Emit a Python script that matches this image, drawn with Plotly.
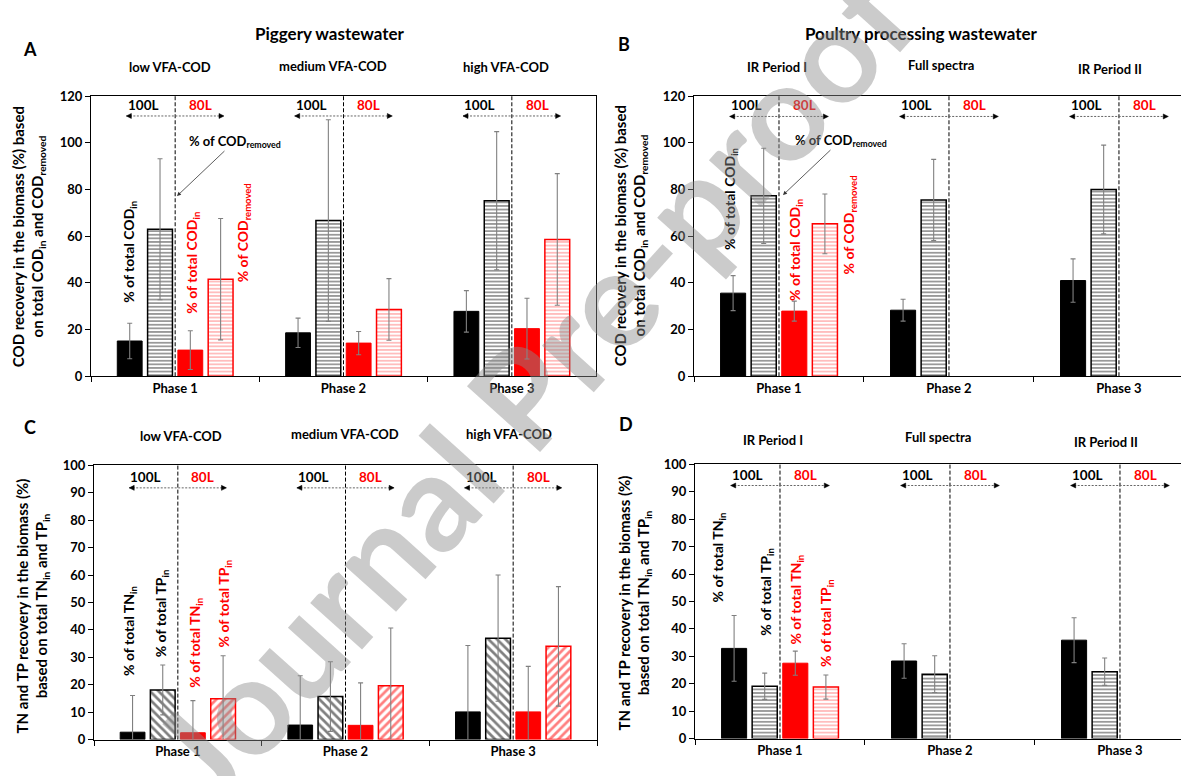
import plotly.graph_objects as go

W, H = 1181, 776
FONT = "Lato"

phases = ["Phase 1", "Phase 2", "Phase 3"]
y_ticks_cod = [0, 20, 40, 60, 80, 100, 120]
y_ticks_n = [0, 10, 20, 30, 40, 50, 60, 70, 80, 90, 100]

# Panel A: COD recovery, piggery wastewater
A_100_codin = [15.1, 18.6, 27.8]
A_100_codin_err = [7.6, 6.3, 8.9]
A_100_codrem = [63.0, 66.7, 75.2]
A_100_codrem_err = [30.2, 43.2, 29.6]
A_80_codin = [11.2, 14.2, 20.4]
A_80_codin_err = [8.3, 5.0, 13.0]
A_80_codrem = [41.6, 28.6, 58.6]
A_80_codrem_err = [26.0, 13.2, 28.2]

# Panel B: COD recovery, poultry processing wastewater
B_100_codin = [35.6, 28.3, 41.0]
B_100_codin_err = [7.5, 4.7, 9.3]
B_100_codrem = [77.3, 75.5, 80.0]
B_100_codrem_err = [20.4, 17.4, 19.0]
B_80_codin = [27.9, None, None]
B_80_codin_err = [4.3, 0, 0]
B_80_codrem = [65.3, None, None]
B_80_codrem_err = [12.8, 0, 0]

# Panel C: TN/TP recovery, piggery wastewater
C_100_tn = [2.7, 5.3, 10.1]
C_100_tn_err = [13.4, 18.0, 24.2]
C_100_tp = [18.1, 15.7, 37.0]
C_100_tp_err = [9.1, 12.7, 23.0]
C_80_tn = [2.5, 5.2, 10.1]
C_80_tn_err = [11.7, 15.5, 16.6]
C_80_tp = [14.9, 19.6, 34.0]
C_80_tp_err = [15.7, 21.1, 21.8]

# Panel D: TN/TP recovery, poultry processing wastewater
D_100_tn = [32.9, 28.3, 35.9]
D_100_tn_err = [12.0, 6.3, 8.2]
D_100_tp = [19.1, 23.5, 24.4]
D_100_tp_err = [4.8, 6.7, 5.0]
D_80_tn = [27.5, None, None]
D_80_tn_err = [4.4, 0, 0]
D_80_tp = [18.8, None, None]
D_80_tp_err = [4.4, 0, 0]


def px(x):
    return x / W


def py(y):
    return 1 - y / H


def sub(s, size):
    return (f"<span style='font-size:{size * 0.68:.1f}px;baseline-shift:-{size * 0.18:.1f}px'>"
            f"{s}</span>")


fig = go.Figure()

ERR = dict(type="data", color="#808080", thickness=1.1, width=2.5, visible=True)


def add_panel(axn, values, errs, patterns):
    xa = "x" if axn == 1 else f"x{axn}"
    ya = "y" if axn == 1 else f"y{axn}"
    for v, e, (fill, pshape, fg, line_c, lw, psize, solid) in zip(values, errs, patterns):
        marker = dict(color=fill, line=dict(color=line_c, width=lw))
        if pshape:
            marker["pattern"] = dict(shape=pshape, fgcolor=fg, bgcolor="white",
                                     size=psize, solidity=solid, fillmode="overlay")
        fig.add_trace(go.Bar(x=phases, y=v, xaxis=xa, yaxis=ya, marker=marker,
                             textposition="none", hoverinfo="skip",
                             error_y=dict(array=e, **ERR), showlegend=False))


solid_k = ("black", None, None, "black", 1, 0, 0)
solid_r = ("red", None, None, "red", 1, 0, 0)
hline_k = ("white", "-", "black", "black", 1.5, 3.6, 0.4)
hline_r = ("white", "-", "#ff4040", "red", 1.5, 3.6, 0.35)
diag_k = ("white", "\\", "black", "black", 1.5, 6, 0.45)
diag_r = ("white", "/", "red", "red", 1.5, 6, 0.45)

add_panel(1, [A_100_codin, A_100_codrem, A_80_codin, A_80_codrem],
          [A_100_codin_err, A_100_codrem_err, A_80_codin_err, A_80_codrem_err],
          [solid_k, hline_k, solid_r, hline_r])
add_panel(2, [B_100_codin, B_100_codrem, B_80_codin, B_80_codrem],
          [B_100_codin_err, B_100_codrem_err, B_80_codin_err, B_80_codrem_err],
          [solid_k, hline_k, solid_r, hline_r])
add_panel(3, [C_100_tn, C_100_tp, C_80_tn, C_80_tp],
          [C_100_tn_err, C_100_tp_err, C_80_tn_err, C_80_tp_err],
          [solid_k, diag_k, solid_r, diag_r])
add_panel(4, [D_100_tn, D_100_tp, D_80_tn, D_80_tp],
          [D_100_tn_err, D_100_tp_err, D_80_tn_err, D_80_tp_err],
          [solid_k, hline_k, solid_r, hline_r])

tickfont = dict(family=FONT, size=13, color="black")


def xaxis(dom, rng, anchor):
    return dict(domain=dom, range=rng, type="category", anchor=anchor,
                tickmode="array", tickvals=phases,
                ticktext=[f"<b>{p}</b>" for p in phases],
                showline=True, linecolor="black", linewidth=1.3, mirror=True,
                ticks="outside", tickson="boundaries", ticklen=5, tickcolor="black",
                tickfont=tickfont, showgrid=False, zeroline=False)


def yaxis(dom, rng, tv, anchor, mirror):
    return dict(domain=dom, range=rng, anchor=anchor,
                tickmode="array", tickvals=tv, ticktext=[f"<b>{v}</b>" for v in tv],
                showline=True, linecolor="black", linewidth=1.3, mirror=mirror,
                ticks="outside", ticklen=5, tickcolor="black",
                tickfont=tickfont, showgrid=False, zeroline=False)


top_dom = [py(376), py(90)]
bot_dom = [py(747), py(467)]

fig.update_layout(
    width=W, height=H,
    margin=dict(l=0, r=0, t=0, b=0),
    paper_bgcolor="white", plot_bgcolor="white",
    barmode="group", bargap=0.28, bargroupgap=0.18,
    showlegend=False, hovermode=False,
    xaxis=xaxis([px(91), px(596)], [-0.5, 2.5], "y"),
    yaxis=yaxis(top_dom, [0, 120], y_ticks_cod, "x", True),
    xaxis2=xaxis([px(694), 1.0], [-0.5, 2.365], "y2"),
    yaxis2=yaxis(top_dom, [0, 120], y_ticks_cod, "x2", False),
    xaxis3=xaxis([px(94), px(597)], [-0.5, 2.5], "y3"),
    yaxis3=yaxis(bot_dom, [0, 100], y_ticks_n, "x3", True),
    xaxis4=xaxis([px(695), 1.0], [-0.5, 2.359], "y4"),
    yaxis4=yaxis([py(746), py(466)], [0, 100], y_ticks_n, "x4", False),
)

shapes = []
annotations = []


def txt(x, y, text, size=13, color="black", bold=True, angle=0, xref="paper", yref="paper", **kw):
    annotations.append(dict(x=x, y=y, xref=xref, yref=yref, text=text, showarrow=False,
                            textangle=angle, xanchor="center", yanchor="middle",
                            font=dict(family=FONT, size=size, color=color,
                                      weight="bold" if bold else "normal"), **kw))


# Divider lines, 100L/80L labels and double-headed dotted arrows
divider_specs = [
    ("x", "y", 111.5, 116.3),
    ("x2", "y2", 111.3, 116.0),
    ("x3", "y3", 91.8, 95.8),
    ("x4", "y4", 92.3, 96.0),
]
for xr, yr, ay_, ty_ in divider_specs:
    for i in range(3):
        shapes.append(dict(type="line", xref=xr, yref=f"{yr} domain", x0=i, x1=i, y0=0, y1=1,
                           line=dict(color="black", width=1, dash="4px,2px")))
        shapes.append(dict(type="line", xref=xr, yref=yr, x0=i - 0.29, x1=i + 0.29,
                           y0=ay_, y1=ay_, line=dict(color="#666666", width=1, dash="2px,1.5px")))
        for end, path in ((i - 0.29, "M 0 0 L 5 2.5 L 5 -2.5 Z"),
                          (i + 0.29, "M 0 0 L -5 2.5 L -5 -2.5 Z")):
            shapes.append(dict(type="path", xref=xr, yref=yr, xsizemode="pixel",
                               ysizemode="pixel", xanchor=end, yanchor=ay_, path=path,
                               fillcolor="black", line=dict(color="black", width=0.5)))
        txt(i - 0.19, ty_, "100L", size=13.5, xref=xr, yref=yr)
        txt(i + 0.15, ty_, "80L", size=13.5, color="red", xref=xr, yref=yr)

# Panel letters and titles
txt(px(30), py(42), "A", size=18)
txt(px(624), py(37), "B", size=18)
txt(px(30), py(428), "C", size=18)
txt(px(626), py(425), "D", size=18)
txt(px(330), py(26), "Piggery wastewater", size=17)
txt(px(921), py(26), "Poultry processing wastewater", size=17)

for x, y, t in [(170, 60, "low VFA-COD"), (333, 59, "medium VFA-COD"), (506, 60, "high VFA-COD"),
                (777, 60, "IR Period I"), (941, 58, "Full spectra"), (1110, 62, "IR Period II"),
                (181, 437, "low VFA-COD"), (345, 435, "medium VFA-COD"), (509, 435, "high VFA-COD"),
                (773, 441, "IR Period I"), (938, 438, "Full spectra"), (1106, 443, "IR Period II")]:
    txt(px(x), py(y), t, size=13)

# Axis titles
cod_title = ("COD recovery in the biomass (%) based<br>on total COD" + sub("in", 15)
             + " and COD" + sub("removed", 15))
n_title = ("TN and TP recovery in the biomass (%)<br>based on total TN" + sub("in", 15)
           + " and TP" + sub("in", 15))
txt(px(28), py(234), cod_title, size=15, angle=-90)
txt(px(630), py(233), cod_title, size=15, angle=-90)
txt(px(32), py(611), n_title, size=15, angle=-90)
txt(px(634), py(607), n_title, size=15, angle=-90)

# Rotated series labels
codin = "% of total COD" + sub("in", 14)
codrem = "% of COD" + sub("removed", 14)
tnin = "% of total TN" + sub("in", 14)
tpin = "% of total TP" + sub("in", 14)
for x, y, t, c in [
    (130, 249, codin, "black"),
    (193, 260, codin, "red"),
    (243, 230, codrem, "red"),
    (731, 195, codin, "black"),
    (796, 247, codin, "red"),
    (849, 222, codrem, "red"),
    (130, 636, tnin, "black"),
    (161, 618, tpin, "black"),
    (196, 648, tnin, "red"),
    (224, 608, tpin, "red"),
    (718, 561, tnin, "black"),
    (767, 596, tpin, "black"),
    (797, 604, tnin, "red"),
    (826, 628, tpin, "red"),
]:
    txt(px(x), py(y), t, size=14, color=c, angle=-90)

# "% of COD removed" callouts with arrows (text placed at the arrow tail)
for (tx, ty), (hx, hy) in [((235, 137), (177, 192)), ((841, 136), (783, 191))]:
    annotations.append(dict(x=px(hx), y=py(hy), xref="paper", yref="paper",
                            ax=tx - hx, ay=ty - hy, text="% of COD" + sub("removed", 13),
                            showarrow=True, arrowhead=2, arrowsize=1, arrowwidth=0.8,
                            arrowcolor="#333333", standoff=0,
                            font=dict(family=FONT, size=13, color="black", weight="bold")))

# Watermark
annotations.append(dict(x=px(530), y=py(384), xref="paper", yref="paper",
                        xanchor="center", yanchor="middle",
                        text="Journal Pre-proof", showarrow=False, textangle=-48,
                        font=dict(family=FONT, size=136, color="rgba(140,140,140,0.45)",
                                  weight="bold")))

fig.update_layout(shapes=shapes, annotations=annotations)
fig.write_html("out.html")
